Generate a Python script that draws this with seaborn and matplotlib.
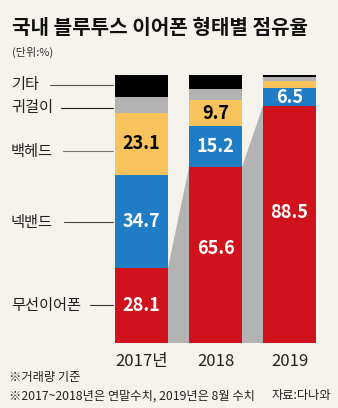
import numpy as np
import pandas as pd
import matplotlib
matplotlib.use("Agg")
import matplotlib.pyplot as plt
import seaborn as sns

years = ["2017년", "2018", "2019"]
categories = ["무선이어폰", "넥밴드", "백헤드", "귀걸이", "기타"]
wireless = [28.1, 65.6, 88.5]
neckband = [34.7, 15.2, 6.5]
backhead = [23.1, 9.7, 2.6]
earring = [5.8, 4.2, 1.6]
etc = [8.3, 5.3, 0.8]
labels_shown = {
    "무선이어폰": ["28.1", "65.6", "88.5"],
    "넥밴드": ["34.7", "15.2", "6.5"],
    "백헤드": ["23.1", "9.7", ""],
}

colors = {"무선이어폰": "#d0121c", "넥밴드": "#1f7dc6", "백헤드": "#f8c25c",
          "귀걸이": "#b3b3b3", "기타": "#000000"}
txtcol = {"무선이어폰": "white", "넥밴드": "white", "백헤드": "black"}
bg = "#f6f3ec"

sns.set_theme(style="white")
plt.rcParams['font.family'] = ['Noto Sans CJK KR', 'DejaVu Sans']

df = pd.DataFrame({"year": years, "무선이어폰": wireless, "넥밴드": neckband,
                   "백헤드": backhead, "귀걸이": earring, "기타": etc})
cum = df[categories].cumsum(axis=1)

W, H = 338, 408
fig = plt.figure(figsize=(W / 100, H / 100), dpi=100, facecolor=bg)
ax_top_px, ax_bot_px = 75, 343
ax = fig.add_axes([0, (H - ax_bot_px) / H, 1, (ax_bot_px - ax_top_px) / H])
ax.set_facecolor(bg)

bw = 53 / 74
for cat in reversed(categories):
    sns.barplot(x=df["year"], y=cum[cat], color=colors[cat], width=bw,
                linewidth=0, saturation=1, ax=ax, zorder=2)

# connector bands between red segments
for i in range(len(years) - 1):
    x0 = i + bw / 2
    x1 = i + 1 - bw / 2
    ax.fill([x0, x0, x1, x1], [0, wireless[i], wireless[i + 1], 0],
            color="#b3b3b3", linewidth=0, zorder=1)

# value labels (red labels sit slightly above centre in tall segments)
red_shift = [0.0, 2.6, 4.6]
for cat in ["무선이어폰", "넥밴드", "백헤드"]:
    for i in range(len(years)):
        s = labels_shown[cat][i]
        if not s:
            continue
        top = cum[cat][i]
        bottom = top - df[cat][i]
        y = (top + bottom) / 2 + (red_shift[i] if cat == "무선이어폰" else 0)
        ax.text(i, y, s, ha="center", va="center",
                color=txtcol[cat], fontsize=13, fontweight="bold", zorder=5)

# left category labels with leader lines
xpx = lambda p: (p - 141.5) / 74
label_y = {"기타": 96.3, "귀걸이": 87.7, "백헤드": 71.6, "넥밴드": 45.0, "무선이어폰": 14.0}
line_start = {"기타": 50, "귀걸이": 61, "백헤드": 63, "넥밴드": 64, "무선이어폰": 90}
line_col = {"기타": "#555555", "귀걸이": "#222222", "백헤드": "#777777",
            "넥밴드": "#444444", "무선이어폰": "#333333"}
for cat in categories:
    y = label_y[cat]
    ax.text(xpx(11), y, cat, ha="left", va="center", fontsize=11,
            color="#222222", zorder=5)
    ax.plot([xpx(line_start[cat]), xpx(113)], [y, y], color=line_col[cat],
            linewidth=0.8, zorder=3, clip_on=False)

ax.set_xlim(xpx(0), xpx(338))
ax.set_ylim(0, 100)
ax.set_yticks([])
ax.set_xlabel("")
ax.set_ylabel("")
ax.set_xticks(range(len(years)))
ax.set_xticklabels(years, fontsize=12, color="#222222")
ax.tick_params(axis="x", length=0, pad=7)
for sp in ax.spines.values():
    sp.set_visible(False)

fig.text(12 / W, 1 - 27 / H, "국내 블루투스 이어폰 형태별 점유율", ha="left", va="center",
         fontsize=14.5, fontweight="heavy", color="#111111")
fig.text(12 / W, 1 - 52 / H, "(단위:%)", ha="left", va="center", fontsize=8,
         color="#333333")
fig.text(9 / W, 1 - 377 / H, "※거래량 기준", ha="left", va="center", fontsize=8.8,
         color="#222222")
fig.text(9 / W, 1 - 396 / H, "※2017~2018년은 연말수치, 2019년은 8월 수치", ha="left",
         va="center", fontsize=8.8, color="#222222")
fig.text(331 / W, 1 - 396 / H, "자료:다나와", ha="right", va="center", fontsize=8.8,
         color="#222222")

fig.savefig("out.png", dpi=100, facecolor=bg)
